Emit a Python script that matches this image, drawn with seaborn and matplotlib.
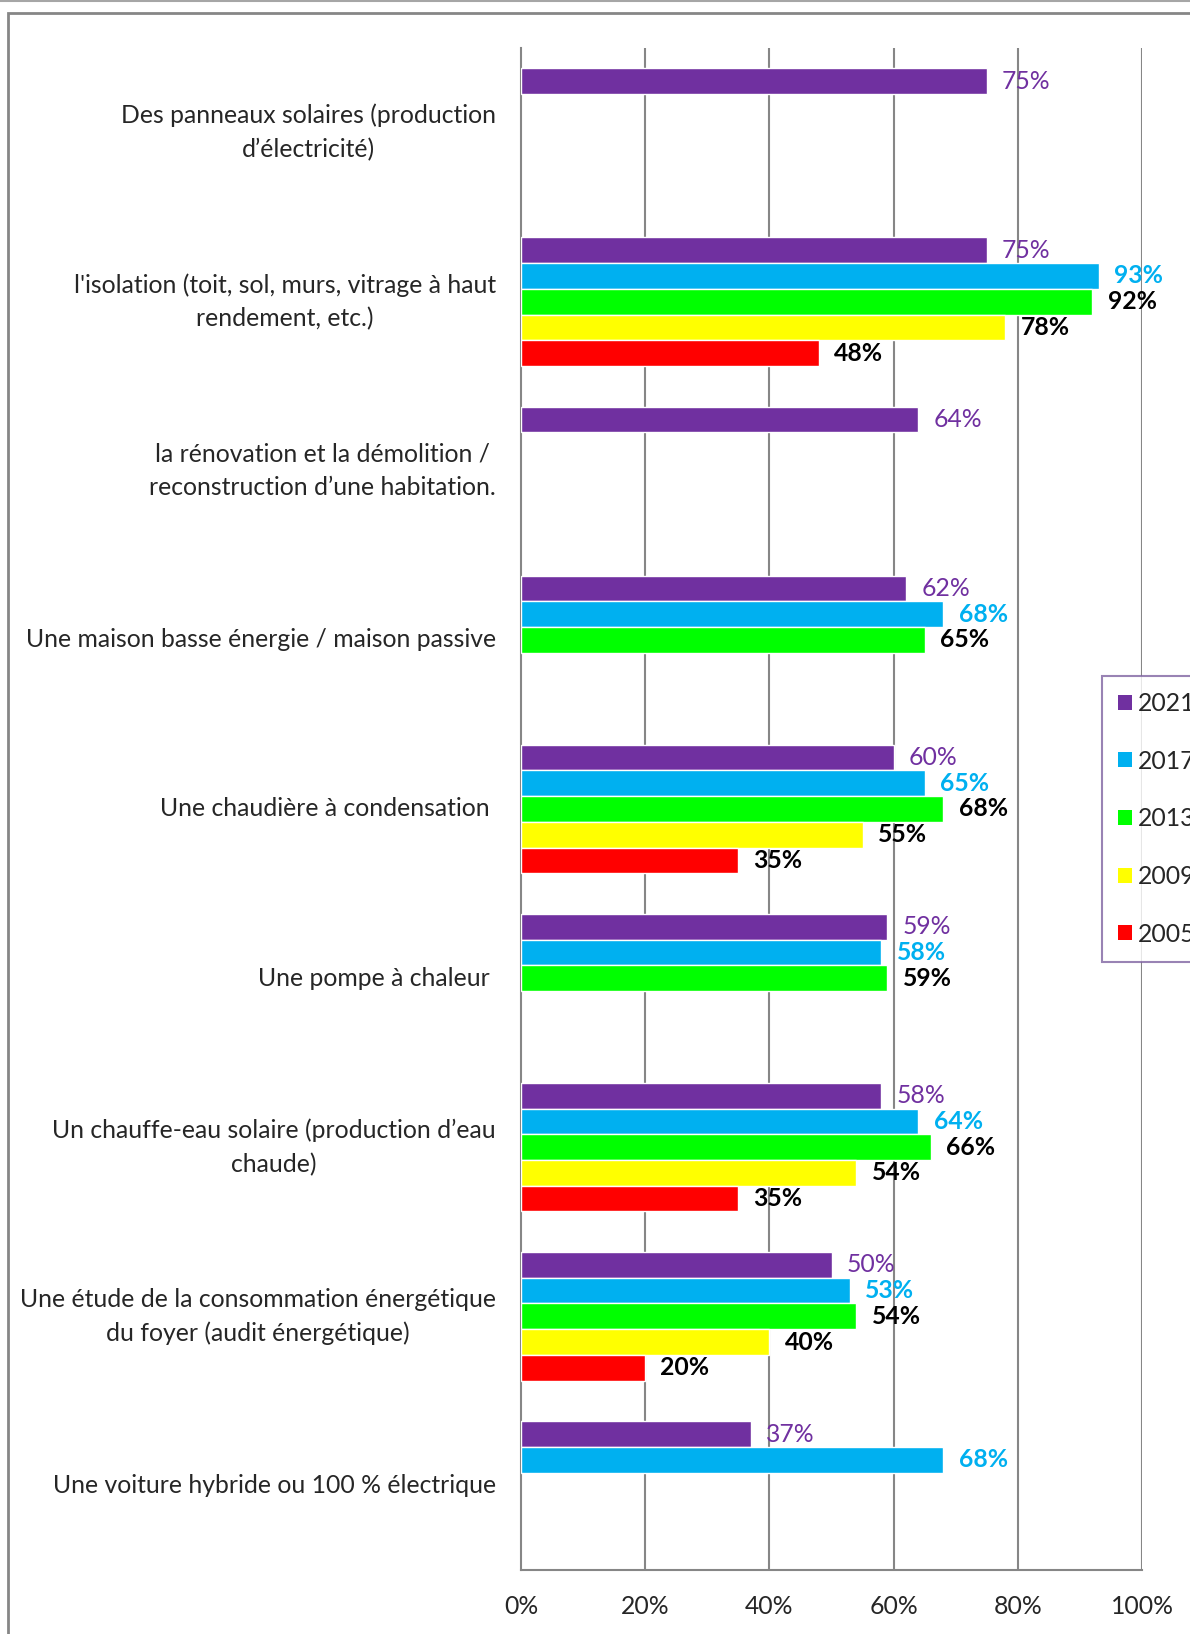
import numpy as np
import pandas as pd
import seaborn as sns
import matplotlib.pyplot as plt
from matplotlib.patches import Rectangle, Patch
from matplotlib.lines import Line2D

sns.set_style("white")
plt.rcParams['font.family'] = ['Lato', 'DejaVu Sans']

nan = np.nan

#--- data ---
categories = [
    "Des panneaux solaires (production\nd\u2019électricité)",
    "l'isolation (toit, sol, murs, vitrage à haut\nrendement, etc.)",
    "la rénovation et la démolition /\nreconstruction d\u2019une habitation.",
    "Une maison basse énergie / maison passive",
    "Une chaudière à condensation ",
    "Une pompe à chaleur ",
    "Un chauffe-eau solaire (production d\u2019eau\nchaude)",
    "Une étude de la consommation énergétique\ndu foyer (audit énergétique)",
    "Une voiture hybride ou 100 % électrique",
]
years = ["2021", "2017", "2013", "2009", "2005"]
v2021 = [75, 75, 64, 62, 60, 59, 58, 50, 37]
v2017 = [nan, 93, nan, 68, 65, 58, 64, 53, 68]
v2013 = [nan, 92, nan, 65, 68, 59, 66, 54, nan]
v2009 = [nan, 78, nan, nan, 55, nan, 54, 40, nan]
v2005 = [nan, 48, nan, nan, 35, nan, 35, 20, nan]
colors = ["#7030A0", "#00B0F0", "#00FF00", "#FFFF00", "#FF0000"]
label_colors = ["#7030A0", "#00B0F0", "black", "black", "black"]
label_weights = ["normal", "bold", "bold", "bold", "bold"]
xticks = [0, 20, 40, 60, 80, 100]

rows = []
for year, vals in zip(years, [v2021, v2017, v2013, v2009, v2005]):
    for cat, v in zip(categories, vals):
        rows.append({"cat": cat, "year": year, "val": v})
df = pd.DataFrame(rows).dropna()

FS = 17.8
W, H = 1190, 1634
fig = plt.figure(figsize=(W / 100, H / 100), dpi=100)
ax = fig.add_axes([521 / W, 1 - 1570 / H, (1142 - 521) / W, (1570 - 48) / H])

sns.barplot(data=df, y="cat", x="val", hue="year", order=categories,
            hue_order=years, palette=colors, orient="h", width=0.76,
            saturation=1, errorbar=None, ax=ax, zorder=3)

GREY = "#868686"
ax.set_xlim(0, 100)
ax.set_ylim(8.5, -0.5)
ax.set_xticks(xticks)
ax.set_xticklabels([f"{t}%" for t in xticks], fontsize=FS)
ax.set_xlabel("")
ax.set_ylabel("")
ax.tick_params(axis="x", direction="out", length=6, width=1.5, color=GREY, pad=12)
ax.tick_params(axis="y", which="major", length=0, pad=18, labelsize=FS)
for lab in ax.get_yticklabels():
    lab.set_multialignment("center")
    lab.set_linespacing(1.55)
    lab.set_verticalalignment("center")
ax.set_yticks(np.arange(-0.5, 9, 1), minor=True)
ax.tick_params(axis="y", which="minor", direction="out", length=6, width=1.5, color=GREY)

ax.grid(False)
for t in xticks[1:]:
    ax.axvline(t, color=GREY, lw=1.5, zorder=1)
for s in ["top", "right"]:
    ax.spines[s].set_visible(False)
for s in ["left", "bottom"]:
    ax.spines[s].set_color(GREY)
    ax.spines[s].set_linewidth(1.5)

for c, lc, lw in zip(ax.containers, label_colors, label_weights):
    ax.bar_label(c, fmt="%g%%", padding=11, color=lc, fontweight=lw, fontsize=FS)

if ax.get_legend() is not None:
    ax.get_legend().remove()
handles = [Patch(facecolor=col, edgecolor="none") for col in colors]
leg = fig.legend(handles, years, loc="upper left",
                 bbox_to_anchor=(1102 / W, 1 - 676 / H), fontsize=FS,
                 handlelength=0.55, handleheight=0.55, handletextpad=0.25,
                 labelspacing=1.4, borderpad=0.65, fancybox=False,
                 frameon=True, borderaxespad=0)
leg.get_frame().set_edgecolor("#8064A2")
leg.get_frame().set_linewidth(1.5)

# outer chart frame
fig.patches.append(Rectangle((8 / W, -0.1), 2, 1.1 - 13 / H,
                             transform=fig.transFigure, fill=False,
                             edgecolor=GREY, lw=2))
fig.lines.append(Line2D([0, 1], [1 - 1 / H, 1 - 1 / H], transform=fig.transFigure,
                        color="#A6A6A6", lw=1.5))

fig.savefig("out.png", dpi=100)
